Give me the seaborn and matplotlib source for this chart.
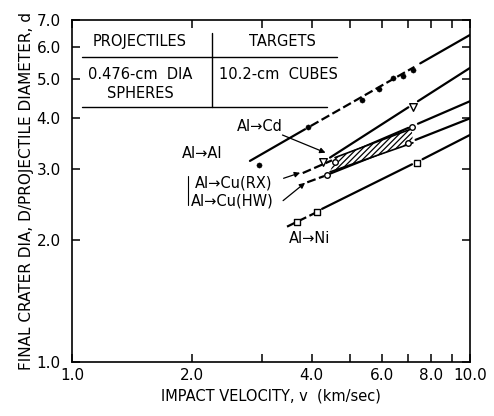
import matplotlib
matplotlib.use("Agg")
import matplotlib.pyplot as plt
from matplotlib.ticker import NullLocator
import pandas as pd
import seaborn as sns

sns.set_theme(style="ticks")
plt.rcParams["font.family"] = ["DejaVu Sans"]
plt.rcParams.update({
    "hatch.linewidth": 0.9,
    "text.color": "black",
    "axes.labelcolor": "black",
    "xtick.color": "black",
    "ytick.color": "black",
})

# ---- data (v in km/sec, d = D / projectile diameter) ----
al_al_v = [2.95, 3.92, 5.35, 5.9, 6.41, 6.8, 7.2]
al_al_d = [3.07, 3.81, 4.44, 4.73, 5.04, 5.1, 5.27]

al_cd_v = [4.27, 7.19]
al_cd_d = [3.12, 4.27]

cu_rx_v = [4.58, 7.14]
cu_rx_d = [3.12, 3.81]

cu_hw_v = [4.37, 6.98]
cu_hw_d = [2.9, 3.48]

al_ni_v = [3.68, 4.13, 7.36]
al_ni_d = [2.22, 2.35, 3.1]

# correlation lines, drawn in pieces (solid / dashed) as in the original
line_segments = [
    # Al -> Al
    ([2.8, 3.85], [3.14, 3.76], "solid"),
    ([3.98, 7.25], [3.83, 5.36], "dashed"),
    ([7.5, 10.0], [5.47, 6.43], "solid"),
    # Al -> Cd
    ([4.45, 7.0], [3.2, 4.26], "solid"),
    ([7.4, 10.0], [4.41, 5.33], "solid"),
    # Al -> Cu(RX)
    ([3.8, 4.5], [2.93, 3.15], "dashed"),
    ([4.62, 7.0], [3.18, 3.79], "solid"),
    ([7.4, 10.0], [3.88, 4.41], "solid"),
    # Al -> Cu(HW)
    ([3.9, 4.3], [2.78, 2.88], "dashed"),
    ([4.45, 6.9], [2.92, 3.47], "solid"),
    ([7.3, 10.0], [3.54, 4.0], "solid"),
    # Al -> Ni
    ([3.47, 4.1], [2.16, 2.34], "dashed"),
    ([4.25, 7.15], [2.39, 3.08], "solid"),
    ([7.6, 10.0], [3.17, 3.64], "solid"),
]

# hatched Cu scatter band
band_v = [4.58, 7.14, 7.19, 4.45]
band_d = [3.2, 3.77, 3.48, 2.95]

x_ticks = [1, 2, 3, 4, 5, 6, 7, 8, 9, 10]
x_labels = ["1.0", "2.0", "", "4.0", "", "6.0", "", "8.0", "", "10.0"]
y_ticks = [1, 2, 3, 4, 5, 6, 7]
y_labels = ["1.0", "2.0", "3.0", "4.0", "5.0", "6.0", "7.0"]

# ---- figure ----
fig = plt.figure(figsize=(4.94, 4.16), dpi=100)
ax = fig.add_axes([0.1457, 0.1298, 0.8057, 0.8221])
ax.set_xscale("log")
ax.set_yscale("log")
ax.set_xlim(1, 10)
ax.set_ylim(1, 7)

for xs, ys, style in line_segments:
    seg = pd.DataFrame({"v": xs, "d": ys})
    kw = dict(dashes=(4, 1.6)) if style == "dashed" else {}
    sns.lineplot(data=seg, x="v", y="d", ax=ax, color="black", lw=1.6,
                 estimator=None, sort=False, **kw)

ax.fill(band_v, band_d, facecolor="white", edgecolor="black", hatch="//////", lw=0, zorder=2)
ax.plot(band_v[:2], band_d[:2], color="black", lw=1.2, zorder=3)
ax.plot(band_v[2:], band_d[2:], color="black", lw=1.2, zorder=3)

sns.scatterplot(x=al_al_v, y=al_al_d, ax=ax, color="black", marker="o", s=14,
                edgecolor="black", zorder=5)
sns.scatterplot(x=al_cd_v, y=al_cd_d, ax=ax, marker="v", s=30, facecolor="white",
                edgecolor="black", linewidth=1.0, zorder=5)
sns.scatterplot(x=cu_rx_v + cu_hw_v, y=cu_rx_d + cu_hw_d, ax=ax, marker="o", s=16,
                facecolor="white", edgecolor="black", linewidth=1.0, zorder=5)
sns.scatterplot(x=al_ni_v, y=al_ni_d, ax=ax, marker="s", s=14, facecolor="white",
                edgecolor="black", linewidth=1.0, zorder=5)

# ---- labels and arrows ----
fs = 10.5
ax.text(2.97, 3.81, "Al→Cd", fontsize=fs, ha="center", va="center")
ax.text(2.12, 3.28, "Al→Al", fontsize=fs, ha="center", va="center")
ax.text(2.04, 2.77, "Al→Cu(RX)", fontsize=fs, ha="left", va="center")
ax.text(1.99, 2.5, "Al→Cu(HW)", fontsize=fs, ha="left", va="center")
ax.text(3.96, 2.02, "Al→Ni", fontsize=fs, ha="center", va="center")
ax.plot([1.96, 1.96], [2.88, 2.45], color="black", lw=0.8)

arrow = dict(arrowstyle="-|>", color="black", lw=0.9, mutation_scale=8)
ax.annotate("", xy=(4.4, 3.27), xytext=(3.33, 3.66), arrowprops=arrow)
ax.annotate("", xy=(3.8, 2.95), xytext=(3.35, 2.83), arrowprops=arrow)
ax.annotate("", xy=(3.9, 2.8), xytext=(3.35, 2.48), arrowprops=arrow)

# ---- header table (top-left) ----
tr = ax.transAxes
ax.plot([0.025, 0.666], [0.892, 0.892], color="black", lw=1.0, transform=tr)
ax.plot([0.025, 0.641], [0.746, 0.746], color="black", lw=1.0, transform=tr)
ax.plot([0.352, 0.352], [0.962, 0.746], color="black", lw=1.0, transform=tr)
ax.text(0.171, 0.936, "PROJECTILES", fontsize=fs, ha="center", va="center", transform=tr)
ax.text(0.528, 0.936, "TARGETS", fontsize=fs, ha="center", va="center", transform=tr)
ax.text(0.171, 0.842, "0.476-cm  DIA", fontsize=fs, ha="center", va="center", transform=tr)
ax.text(0.171, 0.784, "SPHERES", fontsize=fs, ha="center", va="center", transform=tr)
ax.text(0.518, 0.842, "10.2-cm  CUBES", fontsize=fs, ha="center", va="center", transform=tr)

# ---- axes styling ----
ax.xaxis.set_minor_locator(NullLocator())
ax.yaxis.set_minor_locator(NullLocator())
ax.set_xticks(x_ticks)
ax.set_xticklabels(x_labels)
ax.set_yticks(y_ticks)
ax.set_yticklabels(y_labels)
ax.tick_params(direction="in", top=True, right=True, length=6, width=1.1,
               labelsize=11, colors="black")
ax.tick_params(axis="x", pad=4)
ax.tick_params(axis="y", pad=8)
for sp in ax.spines.values():
    sp.set_linewidth(1.2)
    sp.set_color("black")

ax.set_xlabel("IMPACT VELOCITY, v  (km/sec)", fontsize=10.5, labelpad=4)
ax.set_ylabel("FINAL CRATER DIA, D/PROJECTILE DIAMETER, d", fontsize=11)
ax.yaxis.set_label_coords(-0.095, 0.5)

fig.savefig("out.png", dpi=100)
